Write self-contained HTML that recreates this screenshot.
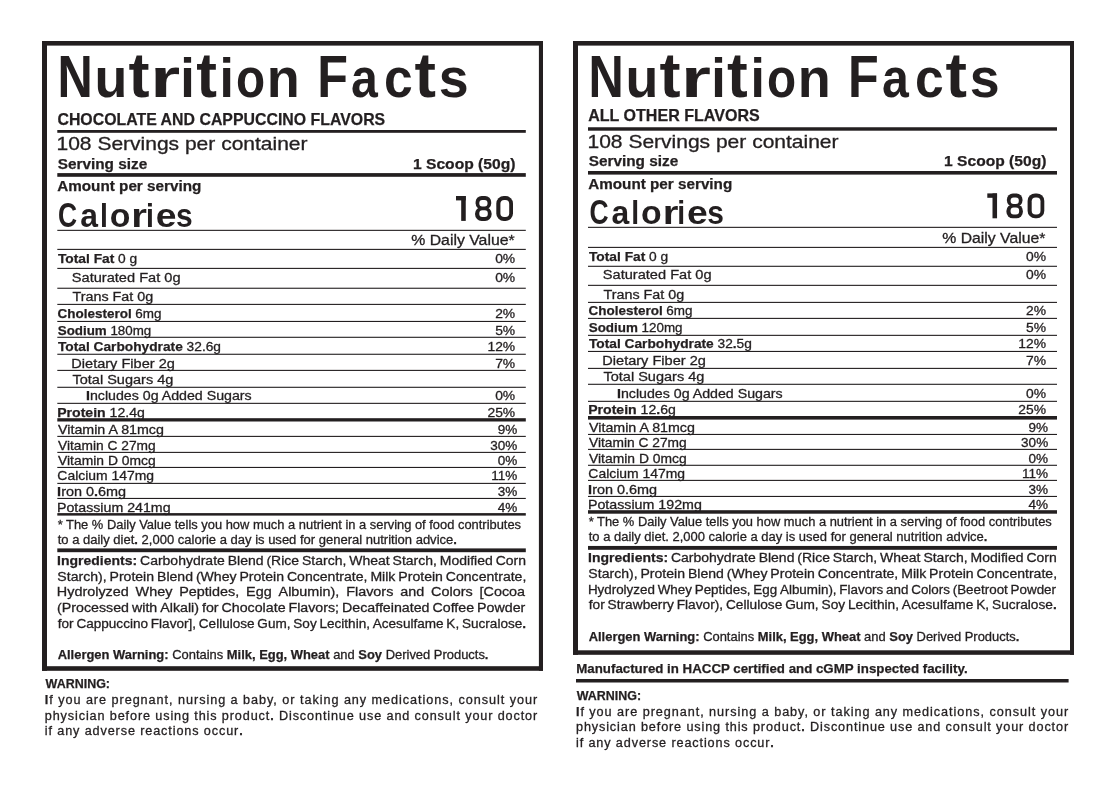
<!DOCTYPE html>
<html><head><meta charset="utf-8"><title>Nutrition Facts</title>
<style>
html,body{margin:0;padding:0;background:#fff;}
body{width:1111px;height:786px;overflow:hidden;}
svg{display:block;will-change:transform;}
text{font-family:"Liberation Sans",sans-serif;white-space:pre;stroke:#231f20;stroke-width:0.3px;}
tspan[font-weight=bold],text[font-weight=bold]{stroke-width:0.25px;}
text.L{stroke-width:0;}
</style></head><body>
<svg width="1111" height="786" viewBox="0 0 1111 786" fill="#231f20">
<g>
<rect x="42" y="41" width="501" height="4.6"/>
<rect x="42" y="666.2" width="501" height="4.6"/>
<rect x="42" y="41" width="5" height="629.8"/>
<rect x="538.9" y="41" width="4.1" height="629.8"/>
<rect x="57.3" y="130" width="468.5" height="2.8"/>
<rect x="57.3" y="173.1" width="468.5" height="3.7"/>
<rect x="57.3" y="229.8" width="468.5" height="1.1"/>
<rect x="57.3" y="248.85" width="468.5" height="1.1"/>
<rect x="57.3" y="267.85" width="468.5" height="1.1"/>
<rect x="57.3" y="287.7" width="468.5" height="1.1"/>
<rect x="57.3" y="303.85" width="468.5" height="1.1"/>
<rect x="57.3" y="320.9" width="468.5" height="1.1"/>
<rect x="57.3" y="336.75" width="468.5" height="1.1"/>
<rect x="57.3" y="353.72" width="468.5" height="1.1"/>
<rect x="57.3" y="369.85" width="468.5" height="1.1"/>
<rect x="57.3" y="386.75" width="468.5" height="1.1"/>
<rect x="57.3" y="402.8" width="468.5" height="1.1"/>
<rect x="57.3" y="435.85" width="468.5" height="1.1"/>
<rect x="57.3" y="451.85" width="468.5" height="1.1"/>
<rect x="57.3" y="466.9" width="468.5" height="1.1"/>
<rect x="57.3" y="482.85" width="468.5" height="1.1"/>
<rect x="57.3" y="497.9" width="468.5" height="1.1"/>
<rect x="57.3" y="418.2" width="468.5" height="3.3"/>
<rect x="57.3" y="513.1" width="468.5" height="2.5"/>
<rect x="57.3" y="548.4" width="468.5" height="3.8"/>
<rect x="573" y="41" width="501" height="4.6"/>
<rect x="573" y="650.3" width="501" height="4.5"/>
<rect x="573" y="41" width="5" height="613.8"/>
<rect x="1070" y="41" width="4" height="613.8"/>
<rect x="588" y="127.25" width="469" height="3.45"/>
<rect x="588" y="171" width="469" height="3.6"/>
<rect x="588" y="226.8" width="469" height="1.1"/>
<rect x="588" y="246.85" width="469" height="1.1"/>
<rect x="588" y="265.75" width="469" height="1.1"/>
<rect x="588" y="284.8" width="469" height="1.1"/>
<rect x="588" y="301.85" width="469" height="1.1"/>
<rect x="588" y="317.85" width="469" height="1.1"/>
<rect x="588" y="334.8" width="469" height="1.1"/>
<rect x="588" y="350.9" width="469" height="1.1"/>
<rect x="588" y="367.85" width="469" height="1.1"/>
<rect x="588" y="383.75" width="469" height="1.1"/>
<rect x="588" y="400.79" width="469" height="1.1"/>
<rect x="588" y="433.9" width="469" height="1.1"/>
<rect x="588" y="448.85" width="469" height="1.1"/>
<rect x="588" y="464.75" width="469" height="1.1"/>
<rect x="588" y="479.85" width="469" height="1.1"/>
<rect x="588" y="495.9" width="469" height="1.1"/>
<rect x="588" y="416" width="469" height="3.6"/>
<rect x="588" y="510.2" width="469" height="3.5"/>
<rect x="588" y="545.95" width="469" height="3.85"/>
<rect x="576" y="679" width="492.6" height="3.5"/>
</g>
<g>
<text x="57.45" y="124.7" font-size="17.15" textLength="327.77" lengthAdjust="spacingAndGlyphs"><tspan font-weight="bold">CHOCOLATE AND CAPPUCCINO FLAVORS</tspan></text>
<text x="56.5" y="150.4" font-size="17.59" textLength="251.05" lengthAdjust="spacingAndGlyphs">108 Servings per container</text>
<text x="57.66" y="168.8" font-size="14.1" textLength="89.57" lengthAdjust="spacingAndGlyphs"><tspan font-weight="bold">Serving size</tspan></text>
<text x="412.91" y="168.6" font-size="13.95" textLength="102.57" lengthAdjust="spacingAndGlyphs"><tspan font-weight="bold">1 Scoop (50g)</tspan></text>
<text x="57.22" y="190.8" font-size="13.81" textLength="144.1" lengthAdjust="spacingAndGlyphs"><tspan font-weight="bold">Amount per serving</tspan></text>
<text x="411.24" y="244.8" font-size="14.39" textLength="103.41" lengthAdjust="spacingAndGlyphs">% Daily Value*</text>
<text x="57.95" y="263" font-size="13.08" textLength="79.34" lengthAdjust="spacingAndGlyphs"><tspan font-weight="bold">Total Fat</tspan> 0 g</text>
<text x="495.16" y="263" font-size="13.08" textLength="20.04" lengthAdjust="spacingAndGlyphs">0%</text>
<text x="71.84" y="282.1" font-size="13.08" textLength="108.7" lengthAdjust="spacingAndGlyphs">Saturated Fat 0g</text>
<text x="495.16" y="282.1" font-size="13.08" textLength="20.04" lengthAdjust="spacingAndGlyphs">0%</text>
<text x="72.48" y="301.4" font-size="13.08" textLength="80.75" lengthAdjust="spacingAndGlyphs">Trans Fat 0g</text>
<text x="57.55" y="318.1" font-size="13.08" textLength="104.02" lengthAdjust="spacingAndGlyphs"><tspan font-weight="bold">Cholesterol</tspan> 6mg</text>
<text x="495.16" y="318.1" font-size="13.08" textLength="20.04" lengthAdjust="spacingAndGlyphs">2%</text>
<text x="57.72" y="334.7" font-size="13.08" textLength="93.55" lengthAdjust="spacingAndGlyphs"><tspan font-weight="bold">Sodium</tspan> 180mg</text>
<text x="495.16" y="334.7" font-size="13.08" textLength="20.04" lengthAdjust="spacingAndGlyphs">5%</text>
<text x="57.95" y="350.5" font-size="13.08" textLength="163.04" lengthAdjust="spacingAndGlyphs"><tspan font-weight="bold">Total Carbohydrate</tspan> 32.6g</text>
<text x="487.45" y="350.5" font-size="13.08" textLength="27.75" lengthAdjust="spacingAndGlyphs">12%</text>
<text x="71.31" y="367.6" font-size="13.08" textLength="103.53" lengthAdjust="spacingAndGlyphs">Dietary Fiber 2g</text>
<text x="495.16" y="367.6" font-size="13.08" textLength="20.04" lengthAdjust="spacingAndGlyphs">7%</text>
<text x="72.47" y="383.8" font-size="13.08" textLength="100.86" lengthAdjust="spacingAndGlyphs">Total Sugars 4g</text>
<text x="85.95" y="399.9" font-size="13.08" textLength="165.76" lengthAdjust="spacingAndGlyphs"><tspan font-weight="bold">I</tspan>ncludes 0g Added Sugars</text>
<text x="495.16" y="399.9" font-size="13.08" textLength="20.04" lengthAdjust="spacingAndGlyphs">0%</text>
<text x="57.16" y="416.6" font-size="13.08" textLength="87.75" lengthAdjust="spacingAndGlyphs"><tspan font-weight="bold">Protein</tspan> 12.4g</text>
<text x="487.45" y="416.6" font-size="13.08" textLength="27.75" lengthAdjust="spacingAndGlyphs">25%</text>
<text x="58.04" y="433.9" font-size="12.79" textLength="105.87" lengthAdjust="spacingAndGlyphs">Vitamin A 81mcg</text>
<text x="497.8" y="433.9" font-size="12.79" textLength="19.58" lengthAdjust="spacingAndGlyphs">9%</text>
<text x="58.04" y="449.8" font-size="12.79" textLength="97.65" lengthAdjust="spacingAndGlyphs">Vitamin C 27mg</text>
<text x="490.27" y="449.8" font-size="12.79" textLength="27.12" lengthAdjust="spacingAndGlyphs">30%</text>
<text x="58.04" y="465.3" font-size="12.79" textLength="97.66" lengthAdjust="spacingAndGlyphs">Vitamin D 0mcg</text>
<text x="497.8" y="465.3" font-size="12.79" textLength="19.58" lengthAdjust="spacingAndGlyphs">0%</text>
<text x="57.39" y="480.4" font-size="12.79" textLength="96.71" lengthAdjust="spacingAndGlyphs">Calcium 147mg</text>
<text x="491.27" y="480.4" font-size="12.79" textLength="26.11" lengthAdjust="spacingAndGlyphs">11%</text>
<text x="57.13" y="496.2" font-size="12.79" textLength="69" lengthAdjust="spacingAndGlyphs"><tspan font-weight="bold">I</tspan>ron 0<tspan font-weight="bold">.</tspan>6mg</text>
<text x="497.8" y="496.2" font-size="12.79" textLength="19.58" lengthAdjust="spacingAndGlyphs">3%</text>
<text x="56.93" y="511.5" font-size="12.79" textLength="113.68" lengthAdjust="spacingAndGlyphs">Potassium 241mg</text>
<text x="497.8" y="511.5" font-size="12.79" textLength="19.58" lengthAdjust="spacingAndGlyphs">4%</text>
<text x="57.69" y="528.5" font-size="13.08" textLength="463.37" lengthAdjust="spacingAndGlyphs">* The % Daily Value tells you how much a nutrient in a serving of food contributes</text>
<text x="57.7" y="543.8" font-size="13.08" textLength="399.19" lengthAdjust="spacingAndGlyphs">to a daily diet<tspan font-weight="bold">.</tspan> 2,000 calorie a day is used for general nutrition advice<tspan font-weight="bold">.</tspan></text>
<text x="57.06" y="565.1" font-size="13.08" textLength="80.08" lengthAdjust="spacingAndGlyphs"><tspan font-weight="bold">Ingredients:</tspan></text>
<text x="140.06" y="565.1" font-size="13.08" textLength="84.78" lengthAdjust="spacingAndGlyphs">Carbohydrate</text>
<text x="227.76" y="565.1" font-size="13.08" textLength="35.79" lengthAdjust="spacingAndGlyphs">Blend</text>
<text x="266.46" y="565.1" font-size="13.08" textLength="32.65" lengthAdjust="spacingAndGlyphs">(Rice</text>
<text x="302.03" y="565.1" font-size="13.08" textLength="44.33" lengthAdjust="spacingAndGlyphs">Starch,</text>
<text x="349.27" y="565.1" font-size="13.08" textLength="40.44" lengthAdjust="spacingAndGlyphs">Wheat</text>
<text x="392.63" y="565.1" font-size="13.08" textLength="44.33" lengthAdjust="spacingAndGlyphs">Starch,</text>
<text x="439.87" y="565.1" font-size="13.08" textLength="52.89" lengthAdjust="spacingAndGlyphs">Modified</text>
<text x="495.68" y="565.1" font-size="13.08" textLength="30.33" lengthAdjust="spacingAndGlyphs">Corn</text>
<text x="57.36" y="580.9" font-size="13.08" textLength="49.24" lengthAdjust="spacingAndGlyphs">Starch),</text>
<text x="109.53" y="580.9" font-size="13.08" textLength="44.56" lengthAdjust="spacingAndGlyphs">Protein</text>
<text x="157.02" y="580.9" font-size="13.08" textLength="35.97" lengthAdjust="spacingAndGlyphs">Blend</text>
<text x="195.92" y="580.9" font-size="13.08" textLength="40.63" lengthAdjust="spacingAndGlyphs">(Whey</text>
<text x="239.48" y="580.9" font-size="13.08" textLength="44.56" lengthAdjust="spacingAndGlyphs">Protein</text>
<text x="286.97" y="580.9" font-size="13.08" textLength="80.52" lengthAdjust="spacingAndGlyphs">Concentrate,</text>
<text x="370.42" y="580.9" font-size="13.08" textLength="25" lengthAdjust="spacingAndGlyphs">Milk</text>
<text x="398.35" y="580.9" font-size="13.08" textLength="44.56" lengthAdjust="spacingAndGlyphs">Protein</text>
<text x="445.84" y="580.9" font-size="13.08" textLength="80.52" lengthAdjust="spacingAndGlyphs">Concentrate,</text>
<text x="56.82" y="596.2" font-size="13.08" textLength="71.96" lengthAdjust="spacingAndGlyphs">Hydrolyzed</text>
<text x="135.64" y="596.2" font-size="13.08" textLength="36.77" lengthAdjust="spacingAndGlyphs">Whey</text>
<text x="179.27" y="596.2" font-size="13.08" textLength="59.98" lengthAdjust="spacingAndGlyphs">Peptides,</text>
<text x="246.12" y="596.2" font-size="13.08" textLength="25.6" lengthAdjust="spacingAndGlyphs">Egg</text>
<text x="278.58" y="596.2" font-size="13.08" textLength="60.76" lengthAdjust="spacingAndGlyphs">Albumin),</text>
<text x="346.2" y="596.2" font-size="13.08" textLength="47.16" lengthAdjust="spacingAndGlyphs">Flavors</text>
<text x="400.22" y="596.2" font-size="13.08" textLength="24" lengthAdjust="spacingAndGlyphs">and</text>
<text x="431.09" y="596.2" font-size="13.08" textLength="41.57" lengthAdjust="spacingAndGlyphs">Colors</text>
<text x="479.52" y="596.2" font-size="13.08" textLength="45.58" lengthAdjust="spacingAndGlyphs">[Cocoa</text>
<text x="57.12" y="612" font-size="13.08" textLength="71.93" lengthAdjust="spacingAndGlyphs">(Processed</text>
<text x="132.01" y="612" font-size="13.08" textLength="25.29" lengthAdjust="spacingAndGlyphs">with</text>
<text x="160.26" y="612" font-size="13.08" textLength="38.72" lengthAdjust="spacingAndGlyphs">Alkali)</text>
<text x="201.95" y="612" font-size="13.08" textLength="16.6" lengthAdjust="spacingAndGlyphs">for</text>
<text x="221.51" y="612" font-size="13.08" textLength="64.04" lengthAdjust="spacingAndGlyphs">Chocolate</text>
<text x="288.51" y="612" font-size="13.08" textLength="50.57" lengthAdjust="spacingAndGlyphs">Flavors;</text>
<text x="342.04" y="612" font-size="13.08" textLength="87.5" lengthAdjust="spacingAndGlyphs">Decaffeinated</text>
<text x="432.51" y="612" font-size="13.08" textLength="41.64" lengthAdjust="spacingAndGlyphs">Coffee</text>
<text x="477.12" y="612" font-size="13.08" textLength="48.22" lengthAdjust="spacingAndGlyphs">Powder</text>
<text x="57.81" y="627.6" font-size="13.08" textLength="15.81" lengthAdjust="spacingAndGlyphs">for</text>
<text x="76.44" y="627.6" font-size="13.08" textLength="71.56" lengthAdjust="spacingAndGlyphs">Cappuccino</text>
<text x="150.82" y="627.6" font-size="13.08" textLength="45.17" lengthAdjust="spacingAndGlyphs">Flavor],</text>
<text x="198.82" y="627.6" font-size="13.08" textLength="55.73" lengthAdjust="spacingAndGlyphs">Cellulose</text>
<text x="257.37" y="627.6" font-size="13.08" textLength="33.13" lengthAdjust="spacingAndGlyphs">Gum,</text>
<text x="293.32" y="627.6" font-size="13.08" textLength="23.35" lengthAdjust="spacingAndGlyphs">Soy</text>
<text x="319.49" y="627.6" font-size="13.08" textLength="50.46" lengthAdjust="spacingAndGlyphs">Lecithin,</text>
<text x="372.78" y="627.6" font-size="13.08" textLength="70.79" lengthAdjust="spacingAndGlyphs">Acesulfame</text>
<text x="446.39" y="627.6" font-size="13.08" textLength="12.8" lengthAdjust="spacingAndGlyphs">K,</text>
<text x="462.02" y="627.6" font-size="13.08" textLength="64.01" lengthAdjust="spacingAndGlyphs">Sucralose<tspan font-weight="bold">.</tspan></text>
<text x="57.68" y="659.3" font-size="12.79" textLength="430.81" lengthAdjust="spacingAndGlyphs"><tspan font-weight="bold">Allergen Warning:</tspan> Contains <tspan font-weight="bold">Milk, Egg, Wheat</tspan> and <tspan font-weight="bold">Soy</tspan> Derived Products<tspan font-weight="bold">.</tspan></text>
<text x="45.59" y="688" font-size="13.08" textLength="64.41" lengthAdjust="spacingAndGlyphs"><tspan font-weight="bold">WARNING:</tspan></text>
<text x="44.75" y="703.8" font-size="12.65" textLength="492.46" lengthAdjust="spacing"><tspan font-weight="bold">I</tspan>f you are pregnant, nursing a baby, or taking any medications, consult your</text>
<text x="44.78" y="719.5" font-size="12.65" textLength="492.43" lengthAdjust="spacing">physician before using this product<tspan font-weight="bold">.</tspan> Discontinue use and consult your doctor</text>
<text x="44.75" y="735.3" font-size="12.65" textLength="197.92" lengthAdjust="spacing">if any adverse reactions occur<tspan font-weight="bold">.</tspan></text>
<text x="588.2" y="121.1" font-size="16.57" textLength="171.53" lengthAdjust="spacingAndGlyphs"><tspan font-weight="bold">ALL OTHER FLAVORS</tspan></text>
<text x="587.5" y="148.2" font-size="17.59" textLength="251.05" lengthAdjust="spacingAndGlyphs">108 Servings per container</text>
<text x="588.66" y="166.3" font-size="14.1" textLength="89.57" lengthAdjust="spacingAndGlyphs"><tspan font-weight="bold">Serving size</tspan></text>
<text x="944.12" y="166.2" font-size="13.95" textLength="102.26" lengthAdjust="spacingAndGlyphs"><tspan font-weight="bold">1 Scoop (50g)</tspan></text>
<text x="588.22" y="188.6" font-size="13.81" textLength="144" lengthAdjust="spacingAndGlyphs"><tspan font-weight="bold">Amount per serving</tspan></text>
<text x="942.24" y="242.5" font-size="14.39" textLength="103.11" lengthAdjust="spacingAndGlyphs">% Daily Value*</text>
<text x="588.95" y="260.5" font-size="13.08" textLength="79.34" lengthAdjust="spacingAndGlyphs"><tspan font-weight="bold">Total Fat</tspan> 0 g</text>
<text x="1025.96" y="260.5" font-size="13.08" textLength="20.04" lengthAdjust="spacingAndGlyphs">0%</text>
<text x="602.84" y="279.4" font-size="13.08" textLength="108.7" lengthAdjust="spacingAndGlyphs">Saturated Fat 0g</text>
<text x="1025.96" y="279.4" font-size="13.08" textLength="20.04" lengthAdjust="spacingAndGlyphs">0%</text>
<text x="603.48" y="298.7" font-size="13.08" textLength="80.75" lengthAdjust="spacingAndGlyphs">Trans Fat 0g</text>
<text x="588.55" y="315.4" font-size="13.08" textLength="104.02" lengthAdjust="spacingAndGlyphs"><tspan font-weight="bold">Cholesterol</tspan> 6mg</text>
<text x="1025.96" y="315.4" font-size="13.08" textLength="20.04" lengthAdjust="spacingAndGlyphs">2%</text>
<text x="588.71" y="331.6" font-size="13.08" textLength="93.85" lengthAdjust="spacingAndGlyphs"><tspan font-weight="bold">Sodium</tspan> 120mg</text>
<text x="1025.96" y="331.6" font-size="13.08" textLength="20.04" lengthAdjust="spacingAndGlyphs">5%</text>
<text x="588.95" y="348.2" font-size="13.08" textLength="162.94" lengthAdjust="spacingAndGlyphs"><tspan font-weight="bold">Total Carbohydrate</tspan> 32<tspan font-weight="bold">.</tspan>5g</text>
<text x="1018.25" y="348.2" font-size="13.08" textLength="27.75" lengthAdjust="spacingAndGlyphs">12%</text>
<text x="602.31" y="365.2" font-size="13.08" textLength="103.53" lengthAdjust="spacingAndGlyphs">Dietary Fiber 2g</text>
<text x="1025.96" y="365.2" font-size="13.08" textLength="20.04" lengthAdjust="spacingAndGlyphs">7%</text>
<text x="603.47" y="381" font-size="13.08" textLength="100.86" lengthAdjust="spacingAndGlyphs">Total Sugars 4g</text>
<text x="616.95" y="397.7" font-size="13.08" textLength="165.76" lengthAdjust="spacingAndGlyphs"><tspan font-weight="bold">I</tspan>ncludes 0g Added Sugars</text>
<text x="1025.96" y="397.7" font-size="13.08" textLength="20.04" lengthAdjust="spacingAndGlyphs">0%</text>
<text x="588.16" y="414.3" font-size="13.08" textLength="87.75" lengthAdjust="spacingAndGlyphs"><tspan font-weight="bold">Protein</tspan> 12<tspan font-weight="bold">.</tspan>6g</text>
<text x="1018.25" y="414.3" font-size="13.08" textLength="27.75" lengthAdjust="spacingAndGlyphs">25%</text>
<text x="589.04" y="431.7" font-size="12.79" textLength="105.87" lengthAdjust="spacingAndGlyphs">Vitamin A 81mcg</text>
<text x="1028.6" y="431.7" font-size="12.79" textLength="19.58" lengthAdjust="spacingAndGlyphs">9%</text>
<text x="589.04" y="447.3" font-size="12.79" textLength="97.65" lengthAdjust="spacingAndGlyphs">Vitamin C 27mg</text>
<text x="1021.07" y="447.3" font-size="12.79" textLength="27.12" lengthAdjust="spacingAndGlyphs">30%</text>
<text x="589.04" y="462.7" font-size="12.79" textLength="97.66" lengthAdjust="spacingAndGlyphs">Vitamin D 0mcg</text>
<text x="1028.6" y="462.7" font-size="12.79" textLength="19.58" lengthAdjust="spacingAndGlyphs">0%</text>
<text x="588.39" y="477.9" font-size="12.79" textLength="96.71" lengthAdjust="spacingAndGlyphs">Calcium 147mg</text>
<text x="1022.07" y="477.9" font-size="12.79" textLength="26.11" lengthAdjust="spacingAndGlyphs">11%</text>
<text x="588.13" y="493.6" font-size="12.79" textLength="69" lengthAdjust="spacingAndGlyphs"><tspan font-weight="bold">I</tspan>ron 0.6mg</text>
<text x="1028.6" y="493.6" font-size="12.79" textLength="19.58" lengthAdjust="spacingAndGlyphs">3%</text>
<text x="587.93" y="508.7" font-size="12.79" textLength="113.99" lengthAdjust="spacingAndGlyphs">Potassium 192mg</text>
<text x="1028.6" y="508.7" font-size="12.79" textLength="19.58" lengthAdjust="spacingAndGlyphs">4%</text>
<text x="588.69" y="525.7" font-size="13.08" textLength="463.07" lengthAdjust="spacingAndGlyphs">* The % Daily Value tells you how much a nutrient in a serving of food contributes</text>
<text x="588.7" y="541" font-size="13.08" textLength="398.69" lengthAdjust="spacingAndGlyphs">to a daily diet. 2,000 calorie a day is used for general nutrition advice<tspan font-weight="bold">.</tspan></text>
<text x="588.06" y="561.9" font-size="13.08" textLength="80.02" lengthAdjust="spacingAndGlyphs"><tspan font-weight="bold">Ingredients:</tspan></text>
<text x="671" y="561.9" font-size="13.08" textLength="84.73" lengthAdjust="spacingAndGlyphs">Carbohydrate</text>
<text x="758.65" y="561.9" font-size="13.08" textLength="35.77" lengthAdjust="spacingAndGlyphs">Blend</text>
<text x="797.33" y="561.9" font-size="13.08" textLength="32.63" lengthAdjust="spacingAndGlyphs">(Rice</text>
<text x="832.87" y="561.9" font-size="13.08" textLength="44.3" lengthAdjust="spacingAndGlyphs">Starch,</text>
<text x="880.09" y="561.9" font-size="13.08" textLength="40.41" lengthAdjust="spacingAndGlyphs">Wheat</text>
<text x="923.41" y="561.9" font-size="13.08" textLength="44.3" lengthAdjust="spacingAndGlyphs">Starch,</text>
<text x="970.63" y="561.9" font-size="13.08" textLength="52.86" lengthAdjust="spacingAndGlyphs">Modified</text>
<text x="1026.4" y="561.9" font-size="13.08" textLength="30.31" lengthAdjust="spacingAndGlyphs">Corn</text>
<text x="588.36" y="577.5" font-size="13.08" textLength="49.2" lengthAdjust="spacingAndGlyphs">Starch),</text>
<text x="640.5" y="577.5" font-size="13.08" textLength="44.53" lengthAdjust="spacingAndGlyphs">Protein</text>
<text x="687.96" y="577.5" font-size="13.08" textLength="35.95" lengthAdjust="spacingAndGlyphs">Blend</text>
<text x="726.83" y="577.5" font-size="13.08" textLength="40.61" lengthAdjust="spacingAndGlyphs">(Whey</text>
<text x="770.36" y="577.5" font-size="13.08" textLength="44.53" lengthAdjust="spacingAndGlyphs">Protein</text>
<text x="817.82" y="577.5" font-size="13.08" textLength="80.47" lengthAdjust="spacingAndGlyphs">Concentrate,</text>
<text x="901.22" y="577.5" font-size="13.08" textLength="24.98" lengthAdjust="spacingAndGlyphs">Milk</text>
<text x="929.13" y="577.5" font-size="13.08" textLength="44.53" lengthAdjust="spacingAndGlyphs">Protein</text>
<text x="976.59" y="577.5" font-size="13.08" textLength="80.47" lengthAdjust="spacingAndGlyphs">Concentrate,</text>
<text x="587.9" y="593.8" font-size="13.08" textLength="67" lengthAdjust="spacingAndGlyphs">Hydrolyzed</text>
<text x="657.7" y="593.8" font-size="13.08" textLength="34.24" lengthAdjust="spacingAndGlyphs">Whey</text>
<text x="694.73" y="593.8" font-size="13.08" textLength="55.85" lengthAdjust="spacingAndGlyphs">Peptides,</text>
<text x="753.37" y="593.8" font-size="13.08" textLength="23.83" lengthAdjust="spacingAndGlyphs">Egg</text>
<text x="780" y="593.8" font-size="13.08" textLength="56.58" lengthAdjust="spacingAndGlyphs">Albumin),</text>
<text x="839.37" y="593.8" font-size="13.08" textLength="43.91" lengthAdjust="spacingAndGlyphs">Flavors</text>
<text x="886.07" y="593.8" font-size="13.08" textLength="22.35" lengthAdjust="spacingAndGlyphs">and</text>
<text x="911.21" y="593.8" font-size="13.08" textLength="38.71" lengthAdjust="spacingAndGlyphs">Colors</text>
<text x="952.71" y="593.8" font-size="13.08" textLength="55.1" lengthAdjust="spacingAndGlyphs">(Beetroot</text>
<text x="1010.6" y="593.8" font-size="13.08" textLength="45.42" lengthAdjust="spacingAndGlyphs">Powder</text>
<text x="588.81" y="609.3" font-size="13.08" textLength="15.98" lengthAdjust="spacingAndGlyphs">for</text>
<text x="607.64" y="609.3" font-size="13.08" textLength="66.21" lengthAdjust="spacingAndGlyphs">Strawberry</text>
<text x="676.71" y="609.3" font-size="13.08" textLength="46.42" lengthAdjust="spacingAndGlyphs">Flavor),</text>
<text x="725.98" y="609.3" font-size="13.08" textLength="56.34" lengthAdjust="spacingAndGlyphs">Cellulose</text>
<text x="785.17" y="609.3" font-size="13.08" textLength="33.48" lengthAdjust="spacingAndGlyphs">Gum,</text>
<text x="821.51" y="609.3" font-size="13.08" textLength="23.6" lengthAdjust="spacingAndGlyphs">Soy</text>
<text x="847.96" y="609.3" font-size="13.08" textLength="51.01" lengthAdjust="spacingAndGlyphs">Lecithin,</text>
<text x="901.83" y="609.3" font-size="13.08" textLength="71.56" lengthAdjust="spacingAndGlyphs">Acesulfame</text>
<text x="976.24" y="609.3" font-size="13.08" textLength="12.94" lengthAdjust="spacingAndGlyphs">K,</text>
<text x="992.04" y="609.3" font-size="13.08" textLength="64.71" lengthAdjust="spacingAndGlyphs">Sucralose<tspan font-weight="bold">.</tspan></text>
<text x="588.68" y="641.3" font-size="12.79" textLength="430.71" lengthAdjust="spacingAndGlyphs"><tspan font-weight="bold">Allergen Warning:</tspan> Contains <tspan font-weight="bold">Milk, Egg, Wheat</tspan> and <tspan font-weight="bold">Soy</tspan> Derived Products<tspan font-weight="bold">.</tspan></text>
<text x="576.31" y="673.4" font-size="13.08" textLength="391.3" lengthAdjust="spacingAndGlyphs"><tspan font-weight="bold">Manufactured in HACCP certified and cGMP inspected facility.</tspan></text>
<text x="576.79" y="699.8" font-size="13.08" textLength="64.41" lengthAdjust="spacingAndGlyphs"><tspan font-weight="bold">WARNING:</tspan></text>
<text x="575.95" y="715.6" font-size="12.65" textLength="492.16" lengthAdjust="spacing"><tspan font-weight="bold">I</tspan>f you are pregnant, nursing a baby, or taking any medications, consult your</text>
<text x="575.98" y="731.3" font-size="12.65" textLength="492.13" lengthAdjust="spacing">physician before using this product<tspan font-weight="bold">.</tspan> Discontinue use and consult your doctor</text>
<text x="575.95" y="747.1" font-size="12.65" textLength="197.92" lengthAdjust="spacing">if any adverse reactions occur<tspan font-weight="bold">.</tspan></text>
<text class="L" transform="translate(57.43 97.10) scale(0.8274 1.0027)" font-size="59" font-weight="bold">N</text>
<text class="L" transform="translate(94.56 97.10) scale(0.9125 0.9496)" font-size="59" font-weight="bold">u</text>
<text class="L" transform="translate(128.53 97.10) scale(1.0710 1.0549)" font-size="59" font-weight="bold">t</text>
<text class="L" transform="translate(150.13 97.10) scale(1.3038 0.9315)" font-size="59" font-weight="bold">r</text>
<text class="L" transform="translate(180.24 97.10) scale(0.8894 0.9497)" font-size="59" font-weight="bold">i</text>
<text class="L" transform="translate(196.14 97.10) scale(1.0545 1.0549)" font-size="59" font-weight="bold">t</text>
<text class="L" transform="translate(219.49 97.10) scale(0.8771 0.9497)" font-size="59" font-weight="bold">i</text>
<text class="L" transform="translate(236.04 97.10) scale(0.8081 0.9418)" font-size="59" font-weight="bold">o</text>
<text class="L" transform="translate(266.74 97.10) scale(0.9161 0.9315)" font-size="59" font-weight="bold">n</text>
<text class="L" transform="translate(317.14 97.10) scale(0.8519 1.0027)" font-size="59" font-weight="bold">F</text>
<text class="L" transform="translate(350.99 97.10) scale(0.8169 0.9418)" font-size="59" font-weight="bold">a</text>
<text class="L" transform="translate(384.08 97.10) scale(0.8756 0.9418)" font-size="59" font-weight="bold">c</text>
<text class="L" transform="translate(414.61 97.10) scale(1.0930 1.0549)" font-size="59" font-weight="bold">t</text>
<text class="L" transform="translate(438.71 97.10) scale(0.9111 0.9410)" font-size="59" font-weight="bold">s</text>
<text class="L" transform="translate(588.38 96.90) scale(0.8274 1.0027)" font-size="59" font-weight="bold">N</text>
<text class="L" transform="translate(625.51 96.90) scale(0.9125 0.9496)" font-size="59" font-weight="bold">u</text>
<text class="L" transform="translate(659.48 96.90) scale(1.0710 1.0549)" font-size="59" font-weight="bold">t</text>
<text class="L" transform="translate(681.08 96.90) scale(1.3038 0.9315)" font-size="59" font-weight="bold">r</text>
<text class="L" transform="translate(711.19 96.90) scale(0.8894 0.9497)" font-size="59" font-weight="bold">i</text>
<text class="L" transform="translate(727.09 96.90) scale(1.0545 1.0549)" font-size="59" font-weight="bold">t</text>
<text class="L" transform="translate(750.44 96.90) scale(0.8771 0.9497)" font-size="59" font-weight="bold">i</text>
<text class="L" transform="translate(766.99 96.90) scale(0.8081 0.9418)" font-size="59" font-weight="bold">o</text>
<text class="L" transform="translate(797.69 96.90) scale(0.9161 0.9315)" font-size="59" font-weight="bold">n</text>
<text class="L" transform="translate(848.09 96.90) scale(0.8519 1.0027)" font-size="59" font-weight="bold">F</text>
<text class="L" transform="translate(881.94 96.90) scale(0.8169 0.9418)" font-size="59" font-weight="bold">a</text>
<text class="L" transform="translate(915.03 96.90) scale(0.8756 0.9418)" font-size="59" font-weight="bold">c</text>
<text class="L" transform="translate(945.56 96.90) scale(1.0930 1.0549)" font-size="59" font-weight="bold">t</text>
<text class="L" transform="translate(969.66 96.90) scale(0.9111 0.9410)" font-size="59" font-weight="bold">s</text>
<text class="L" transform="translate(58.11 226.60) scale(0.7560 0.9902)" font-size="35" font-weight="bold">C</text>
<text class="L" transform="translate(80.17 226.60) scale(0.9109 0.9398)" font-size="35" font-weight="bold">a</text>
<text class="L" transform="translate(100.02 226.60) scale(0.8121 0.9463)" font-size="35" font-weight="bold">l</text>
<text class="L" transform="translate(109.78 226.60) scale(0.9654 0.9398)" font-size="35" font-weight="bold">o</text>
<text class="L" transform="translate(131.35 226.60) scale(1.1499 0.9284)" font-size="35" font-weight="bold">r</text>
<text class="L" transform="translate(145.92 226.60) scale(0.8121 0.9463)" font-size="35" font-weight="bold">i</text>
<text class="L" transform="translate(155.64 226.60) scale(1.0650 0.9398)" font-size="35" font-weight="bold">e</text>
<text class="L" transform="translate(175.95 226.60) scale(0.8572 0.9390)" font-size="35" font-weight="bold">s</text>
<text class="L" transform="translate(589.41 224.25) scale(0.7560 0.9902)" font-size="35" font-weight="bold">C</text>
<text class="L" transform="translate(611.47 224.25) scale(0.9109 0.9398)" font-size="35" font-weight="bold">a</text>
<text class="L" transform="translate(631.32 224.25) scale(0.8121 0.9463)" font-size="35" font-weight="bold">l</text>
<text class="L" transform="translate(641.08 224.25) scale(0.9654 0.9398)" font-size="35" font-weight="bold">o</text>
<text class="L" transform="translate(662.65 224.25) scale(1.1499 0.9284)" font-size="35" font-weight="bold">r</text>
<text class="L" transform="translate(677.22 224.25) scale(0.8121 0.9463)" font-size="35" font-weight="bold">i</text>
<text class="L" transform="translate(686.94 224.25) scale(1.0650 0.9398)" font-size="35" font-weight="bold">e</text>
<text class="L" transform="translate(707.25 224.25) scale(0.8572 0.9390)" font-size="35" font-weight="bold">s</text>
<rect x="456.00" y="196.00" width="9.75" height="4.40" rx="0.00"/>
<rect x="461.20" y="196.00" width="4.55" height="24.90" rx="0.00"/>
<rect x="475.60" y="196.00" width="15.60" height="13.20" rx="6.00"/>
<rect x="475.10" y="207.00" width="16.50" height="13.90" rx="6.50"/>
<rect x="479.30" y="200.10" width="8.20" height="6.40" rx="3.00" fill="#fff"/>
<rect x="479.30" y="210.20" width="8.50" height="6.90" rx="3.00" fill="#fff"/>
<rect x="496.30" y="196.00" width="16.70" height="24.90" rx="7.50"/>
<rect x="500.40" y="200.10" width="8.80" height="17.00" rx="3.80" fill="#fff"/>
<rect x="987.30" y="193.40" width="9.75" height="4.40" rx="0.00"/>
<rect x="992.50" y="193.40" width="4.55" height="24.90" rx="0.00"/>
<rect x="1006.90" y="193.40" width="15.60" height="13.20" rx="6.00"/>
<rect x="1006.40" y="204.40" width="16.50" height="13.90" rx="6.50"/>
<rect x="1010.60" y="197.50" width="8.20" height="6.40" rx="3.00" fill="#fff"/>
<rect x="1010.60" y="207.60" width="8.50" height="6.90" rx="3.00" fill="#fff"/>
<rect x="1027.60" y="193.40" width="16.70" height="24.90" rx="7.50"/>
<rect x="1031.70" y="197.50" width="8.80" height="17.00" rx="3.80" fill="#fff"/>
</g>
</svg>
</body></html>
